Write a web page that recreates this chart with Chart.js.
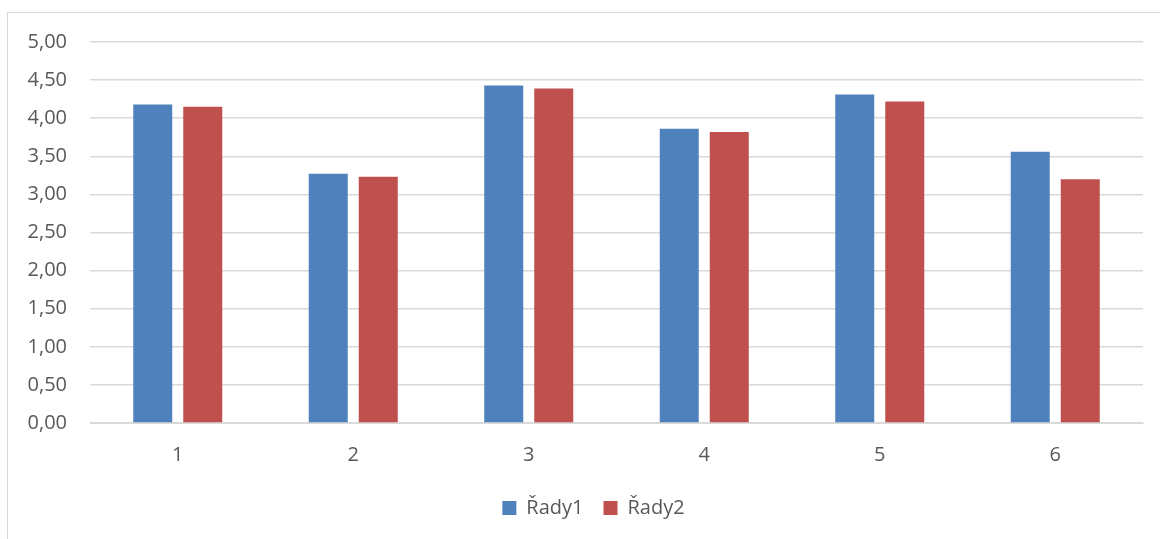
<!DOCTYPE html>
<html>
<head>
<meta charset="utf-8">
<script src="https://cdn.jsdelivr.net/npm/chart.js@4/dist/chart.umd.min.js"></script>
<style>
  html, body { margin: 0; padding: 0; background: #fff; }
  #frame {
    position: absolute; left: 7px; top: 12px; width: 1160px; height: 540px;
    border-left: 1px solid #d9d9d9; border-top: 1px solid #d9d9d9;
  }
  #wrap { position: absolute; left: 0; top: 0; width: 1160px; height: 539px; }
</style>
</head>
<body>
<div id="frame"></div>
<div id="wrap"><canvas id="chart"></canvas></div>
<script>
// data
const categories = ["1", "2", "3", "4", "5", "6"];
const rady1 = [4.18, 3.27, 4.43, 3.86, 4.31, 3.56];
const rady2 = [4.15, 3.23, 4.39, 3.82, 4.22, 3.20];
const seriesNames = ["Řady1", "Řady2"];

const textColor = "#595959";
const gridColor = "#d9d9d9";
const font = { family: "'Open Sans', 'Noto Sans', sans-serif", size: 20 };

// formát s desetinnou čárkou
const fmt = v => Number(v).toFixed(2).replace(".", ",");

// legenda je v originále vystředěná na celý rámeček, ne na plochu grafu
const shiftLegend = {
    id: "shiftLegend",
    afterLayout(chart) {
        if (!chart.legend) return;
        chart.legend.left += 22;
        chart.legend.right += 22;
    }
};

new Chart(document.getElementById("chart"), {
    type: "bar",
    plugins: [shiftLegend],
    data: {
        labels: categories,
        datasets: [
            { label: seriesNames[0], data: rady1, backgroundColor: "#4f81bd" },
            { label: seriesNames[1], data: rady2, backgroundColor: "#c0504d" }
        ]
    },
    options: {
        responsive: true,
        maintainAspectRatio: false,
        animation: false,
        categoryPercentage: 0.57,
        barPercentage: 0.78,
        layout: { padding: { top: 42, right: 17, left: 0, bottom: 11 } },
        plugins: {
            tooltip: { enabled: false },
            legend: {
                position: "bottom",
                labels: {
                    color: textColor,
                    font: font,
                    boxWidth: 14,
                    boxHeight: 14,
                    padding: 20
                }
            }
        },
        scales: {
            x: {
                grid: { display: false, drawTicks: false },
                border: { display: true, color: gridColor },
                ticks: { color: textColor, font: font, padding: 20 },
                afterFit: s => { s.height = 55; }
            },
            y: {
                min: 0,
                max: 5,
                grid: { color: gridColor, lineWidth: 1.5, drawTicks: false },
                border: { display: false },
                ticks: {
                    stepSize: 0.5,
                    color: textColor,
                    font: font,
                    padding: 23,
                    callback: v => fmt(v)
                },
                afterFit: s => { s.width = 90; }
            }
        }
    }
});
</script>
</body>
</html>
